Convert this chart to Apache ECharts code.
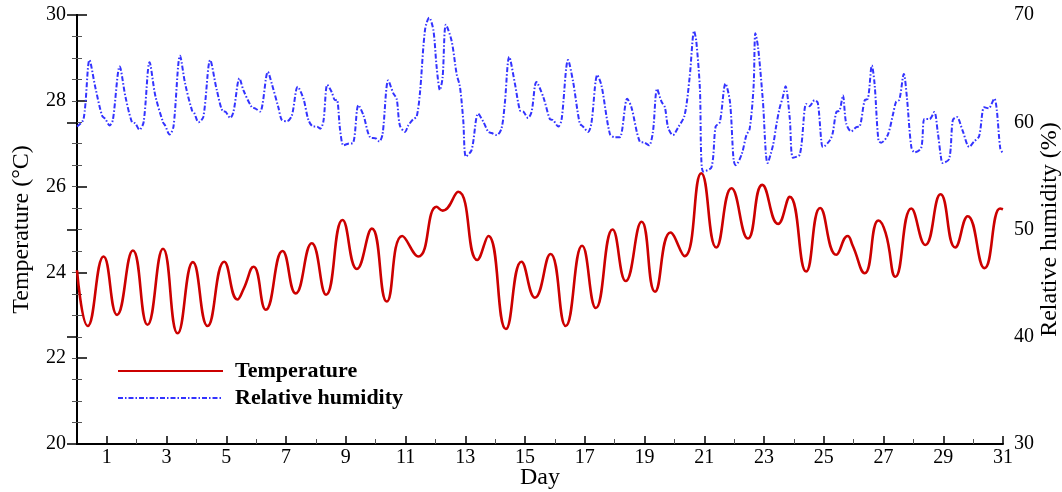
<!DOCTYPE html>
<html>
<head>
<meta charset="utf-8">
<script src="https://cdn.jsdelivr.net/npm/echarts@6/dist/echarts.min.js"></script>
<style>
  html, body { margin: 0; padding: 0; background: #fff; }
  #chart { width: 1062px; height: 492px; }
</style>
</head>
<body>
<div id="chart"></div>
<script>
// 温度：每日波峰/波谷 (day, °C)
var tempDays = [0, 0.36, 0.89, 1.34, 1.87, 2.36, 2.88, 3.37, 3.88, 4.37, 4.93, 5.37, 5.58, 5.91, 6.32, 6.88, 7.32, 7.86, 8.34, 8.89,
  9.37, 9.87, 10.37, 10.89, 11.43, 12.04, 12.24, 12.76, 13.40, 13.77, 14.36, 14.88, 15.33, 15.85, 16.36, 16.91, 17.37, 17.93,
  18.37, 18.90, 19.35, 19.87, 20.34, 20.90, 21.40, 21.91, 22.46, 22.94, 23.47, 23.86, 24.41, 24.88, 25.42, 25.80, 25.97,
  26.37, 26.83, 27.07, 27.40, 27.93, 28.40, 28.91, 29.40, 29.82, 30.38, 30.90, 31];
var tempValues = [24.05, 22.75, 24.37, 23.01, 24.51, 22.78, 24.55, 22.58, 24.24, 22.75, 24.25, 23.37, 23.62, 24.13, 23.13, 24.50, 23.51, 24.68, 23.48, 25.22,
  24.08, 25.02, 23.32, 24.85, 24.37, 25.53, 25.44, 25.88, 24.29, 24.85, 22.68, 24.25, 23.41, 24.43, 22.75, 24.62, 23.17, 25.0,
  23.8, 25.18, 23.55, 24.93, 24.38, 26.31, 24.58, 25.96, 24.79, 26.04, 25.13, 25.76, 24.02, 25.5, 24.41, 24.85, 24.62,
  23.98, 25.21, 24.92, 23.90, 25.49, 24.64, 25.82, 24.58, 25.31, 24.10, 25.49, 25.47];

// 相对湿度 (day, %)
var rhDays = [0, 0.22, 0.42, 0.61, 0.84, 0.95, 1.09, 1.2, 1.43, 1.62, 1.84, 1.95, 2.09, 2.23, 2.43, 2.62, 2.88, 2.95, 3.1, 3.23,
  3.45, 3.62, 3.85, 3.92, 4.07, 4.23, 4.46, 4.68, 4.9, 4.95, 5.13, 5.24, 5.44, 5.57, 5.85, 5.96, 6.13, 6.39, 6.52, 6.74,
  6.86, 7.03, 7.19, 7.39, 7.58, 7.75, 7.91, 8.03, 8.14, 8.25, 8.38, 8.53, 8.64, 8.70, 8.81, 8.92, 9.08, 9.25, 9.42, 9.59,
  9.81, 10.0, 10.12, 10.23, 10.42, 10.59, 10.70, 10.81, 10.98, 11.09, 11.26, 11.37, 11.48, 11.65, 11.79, 11.93, 12.04, 12.15, 12.24, 12.35,
  12.54, 12.71, 12.82, 12.93, 13.02, 13.21, 13.43, 13.61, 13.77, 13.88, 14.05, 14.21, 14.32, 14.47, 14.66, 14.83, 14.94, 15.1, 15.22, 15.38,
  15.61, 15.83, 15.94, 16.11, 16.22, 16.44, 16.61, 16.83, 16.94, 17.11, 17.22, 17.42, 17.56, 17.84, 18.0, 18.17, 18.42, 18.56, 18.84, 19.0,
  19.15, 19.28, 19.42, 19.57, 19.68, 19.79, 19.95, 20.12, 20.34, 20.51, 20.66, 20.73, 20.85, 20.96, 21.24, 21.38, 21.52, 21.71, 21.86, 21.98,
  22.05, 22.25, 22.41, 22.52, 22.65, 22.71, 22.8, 22.96, 23.12, 23.30, 23.41, 23.52, 23.63, 23.72, 23.86, 23.97, 24.2, 24.41, 24.52, 24.69,
  24.8, 24.92, 24.97, 25.2, 25.3, 25.42, 25.53, 25.64, 25.75, 25.92, 26.09, 26.2, 26.37, 26.48, 26.61, 26.7, 26.83, 26.92, 27.14, 27.31,
  27.42, 27.53, 27.68, 27.78, 27.93, 28.04, 28.26, 28.37, 28.54, 28.70, 28.81, 28.93, 28.98, 29.2, 29.32, 29.45, 29.65, 29.87, 30.03, 30.2,
  30.37, 30.52, 30.71, 30.79, 30.91, 31];
var rhValues = [59.6, 60.3, 65.8, 63.3, 60.6, 60.3, 59.7, 60.2, 65.2, 62.4, 60.0, 59.9, 59.3, 60.0, 65.6, 62.5, 60.0, 59.7, 58.85, 59.6,
  66.2, 63.6, 61.1, 60.9, 60.0, 60.5, 65.8, 63.0, 61.0, 61.0, 60.4, 61.0, 64.1, 63.0, 61.4, 61.3, 61.0, 64.7, 63.6, 61.4,
  60.2, 60.1, 60.6, 63.3, 62.2, 60.2, 59.6, 59.6, 59.4, 60.1, 63.5, 62.8, 62.05, 62.1, 59.25, 57.85, 58.0, 58.1, 61.6, 60.65,
  58.6, 58.5, 58.2, 58.9, 63.9, 62.7, 62.2, 59.7, 59.1, 59.7, 60.3, 60.5, 62.7, 68.6, 69.75, 68.6, 65.15, 63.0, 64.2, 69.1,
  67.6, 64.5, 63.3, 60.2, 56.8, 57.4, 60.8, 60.0, 59.1, 59.0, 58.8, 59.4, 61.7, 66.1, 63.6, 61.1, 61.0, 60.4, 61.0, 63.75,
  62.35, 60.3, 60.2, 59.6, 60.2, 65.8, 63.75, 59.9, 59.6, 59.1, 59.9, 64.4, 63.4, 58.9, 58.6, 58.6, 62.2, 61.4, 58.2, 58.1,
  57.85, 59.1, 63.1, 61.9, 61.4, 59.5, 58.8, 59.5, 60.65, 64.2, 68.5, 67.6, 63.3, 55.4, 55.8, 59.6, 60.0, 63.6, 61.9, 56.5,
  56.0, 57.0, 58.8, 59.4, 63.3, 68.3, 67.0, 62.05, 56.2, 57.85, 59.7, 61.3, 62.35, 63.35, 60.4, 56.7, 57.0, 61.7, 61.5, 62.05,
  61.8, 58.2, 57.7, 58.3, 59.0, 60.95, 61.1, 62.5, 59.9, 59.15, 59.55, 59.6, 62.05, 62.2, 65.3, 63.6, 58.3, 58.1, 58.8, 60.65,
  61.9, 62.1, 64.5, 62.4, 57.7, 57.2, 57.6, 60.3, 60.3, 60.95, 59.2, 56.6, 56.2, 56.6, 60.2, 60.5, 59.2, 57.7, 58.2, 58.7,
  61.4, 61.3, 62.2, 61.2, 57.55, 57.1];

// 坐标轴刻度
var dayLabels = [1, 3, 5, 7, 9, 11, 13, 15, 17, 19, 21, 23, 25, 27, 29, 31];
var dayMinor = [2, 4, 6, 8, 10, 12, 14, 16, 18, 20, 22, 24, 26, 28, 30];

var serif = 'Liberation Serif';

function zip(xs, ys) {
  return xs.map(function (x, i) { return [x, ys[i]]; });
}

var chart = echarts.init(document.getElementById('chart'));
var option = {
  animation: false,
  backgroundColor: '#fff',
  grid: { left: 77, right: 59, top: 15, bottom: 48, outerBoundsMode: 'none', containLabel: false },
  legend: {
    orient: 'vertical',
    left: 112,
    top: 355,
    itemWidth: 105,
    itemHeight: 14,
    itemGap: 5,
    itemStyle: { opacity: 0 },
    textStyle: { fontFamily: serif, fontWeight: 'bold', fontSize: 22, color: '#000', padding: [0, 0, 0, 7] },
    data: ['Temperature', 'Relative humidity']
  },
  xAxis: [
    {
      type: 'value',
      min: 0,
      max: 31,
      interval: 1,
      name: 'Day',
      nameLocation: 'middle',
      nameGap: 22,
      nameMoveOverlap: false,
      nameTextStyle: { fontFamily: serif, fontSize: 24, color: '#000' },
      axisLine: { lineStyle: { color: '#000', width: 2 } },
      axisTick: { inside: true, length: 8, customValues: dayLabels, lineStyle: { color: '#000', width: 1.5 } },
      axisLabel: { customValues: dayLabels, fontFamily: serif, fontSize: 20, color: '#000', margin: 4 },
      splitLine: { show: false }
    },
    {
      // 偶数天的小刻度
      type: 'value',
      min: 0,
      max: 31,
      interval: 1,
      position: 'bottom',
      axisLine: { show: false },
      axisTick: { show: true, inside: true, length: 5, customValues: dayMinor, lineStyle: { color: '#555', width: 1 } },
      axisLabel: { show: false },
      splitLine: { show: false }
    }
  ],
  yAxis: [
    {
      type: 'value',
      min: 20,
      max: 30,
      interval: 2,
      name: 'Temperature (°C)',
      nameLocation: 'middle',
      nameGap: 43,
      nameMoveOverlap: false,
      nameTextStyle: { fontFamily: serif, fontSize: 24, color: '#000' },
      axisLine: { show: true, lineStyle: { color: '#000', width: 2 } },
      axisTick: { show: true, inside: true, length: 10, lineStyle: { color: '#000', width: 1.5 } },
      minorTick: { show: true, splitNumber: 4, length: 5, lineStyle: { color: '#555', width: 1 } },
      axisLabel: { fontFamily: serif, fontSize: 20, color: '#000', margin: 11 },
      splitLine: { show: false }
    },
    {
      type: 'value',
      min: 30,
      max: 70,
      interval: 10,
      position: 'right',
      name: 'Relative humidity (%)',
      nameLocation: 'middle',
      nameGap: 35,
      nameRotate: 90,
      nameMoveOverlap: false,
      nameTextStyle: { fontFamily: serif, fontSize: 24, color: '#000' },
      axisLine: { show: true, lineStyle: { color: '#000', width: 2 } },
      axisTick: { show: true, inside: true, length: 10, lineStyle: { color: '#000', width: 1.5 } },
      minorTick: { show: true, splitNumber: 5, length: 5, lineStyle: { color: '#555', width: 1 } },
      axisLabel: { fontFamily: serif, fontSize: 20, color: '#000', margin: 11 },
      splitLine: { show: false }
    }
  ],
  series: [
    {
      name: 'Temperature',
      type: 'line',
      xAxisIndex: 0,
      yAxisIndex: 0,
      smooth: 0.5,
      showSymbol: false,
      symbol: 'none',
      data: zip(tempDays, tempValues),
      itemStyle: { color: '#cc0000' },
      lineStyle: { color: '#cc0000', width: 2.6 }
    },
    {
      name: 'Relative humidity',
      type: 'line',
      xAxisIndex: 0,
      yAxisIndex: 1,
      smooth: 0.3,
      showSymbol: false,
      symbol: 'none',
      data: zip(rhDays, rhValues),
      itemStyle: { color: '#3333ff' },
      lineStyle: { color: '#3333ff', width: 2, type: [5, 2, 1.5, 2] }
    }
  ]
};
chart.setOption(option);
</script>
</body>
</html>
